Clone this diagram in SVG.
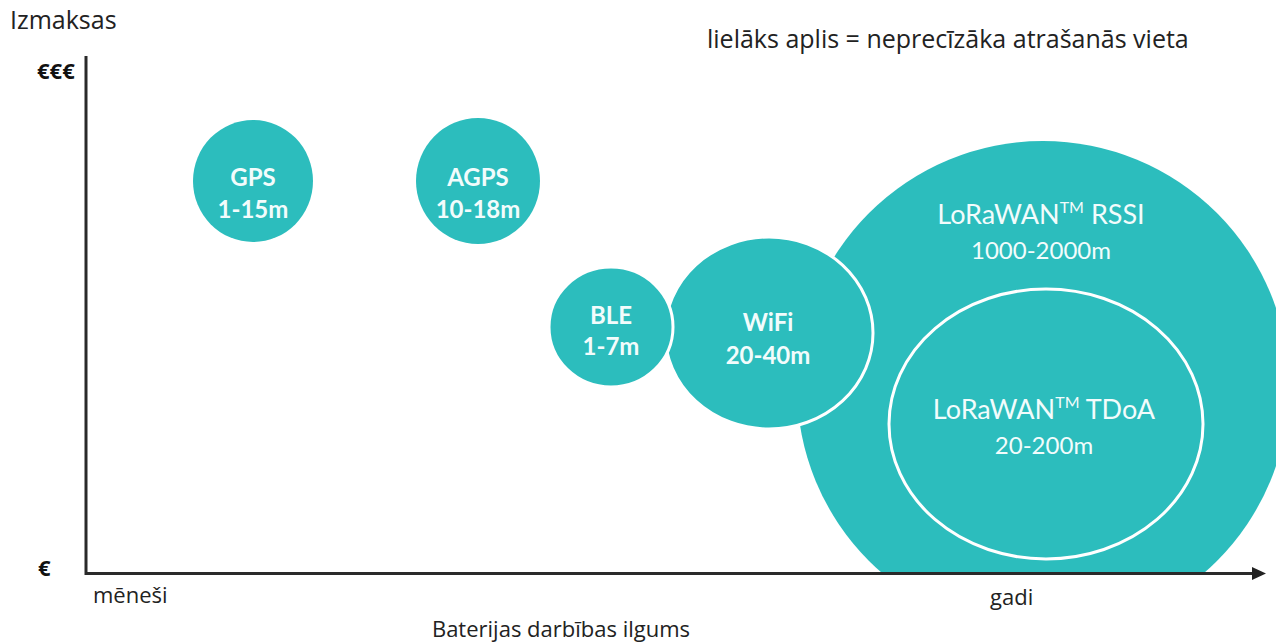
<svg xmlns="http://www.w3.org/2000/svg" width="1276" height="642" viewBox="0 0 1276 642">
<style>
.bub{fill:#2cbdbd}
.edge{stroke:#ffffff;stroke-width:3}
.ring{fill:none;stroke:#ffffff;stroke-width:3}
.lbl{font-family:Lato,"Open Sans",sans-serif;font-size:24px;fill:#f2fcfc;text-anchor:middle}
.b{font-weight:700}
.lo{font-size:27px}
.tm{font-size:16px}
.ax{font-family:"Open Sans","Noto Sans",sans-serif;font-size:22px;fill:#222222}
.top{font-size:25px}
.eur{font-family:"Open Sans","Noto Sans",sans-serif;font-size:22px;font-weight:700;fill:#111111}
.axis{fill:none;stroke:#2a2a2a;stroke-width:3}
</style>
<defs>
<clipPath id="plot"><rect x="0" y="0" width="1276" height="573"/></clipPath>
<marker id="arr" markerWidth="14" markerHeight="14" refX="2" refY="7" orient="auto" markerUnits="userSpaceOnUse"><path d="M0,0.5 L14,7 L0,13.5 z" fill="#222222"/></marker>
</defs>
<rect x="0" y="0" width="1276" height="642" fill="#ffffff"/>

<g id="lora-rssi" clip-path="url(#plot)">
<circle class="bub" cx="1043" cy="387" r="246"/>
<text class="lbl lo" x="1041" y="224">LoRaWAN<tspan class="tm" dy="-11">TM</tspan><tspan dy="11"> RSSI</tspan></text>
<text class="lbl" x="1041" y="259">1000-2000m</text>
</g>

<g id="lora-tdoa">
<ellipse class="ring" cx="1046" cy="424" rx="157" ry="135"/>
<text class="lbl lo" x="1044" y="419">LoRaWAN<tspan class="tm" dy="-11">TM</tspan><tspan dy="11"> TDoA</tspan></text>
<text class="lbl" x="1044" y="454">20-200m</text>
</g>

<g id="wifi">
<ellipse class="bub edge" cx="769" cy="333" rx="104" ry="96"/>
<text class="lbl b" x="768" y="331">WiFi</text>
<text class="lbl b" x="768" y="364">20-40m</text>
</g>

<g id="ble">
<ellipse class="bub edge" cx="611" cy="327" rx="62" ry="60"/>
<text class="lbl b" x="611" y="324">BLE</text>
<text class="lbl b" x="611" y="355">1-7m</text>
</g>

<g id="gps">
<ellipse class="bub" cx="253" cy="181" rx="60" ry="61"/>
<text class="lbl b" x="253" y="186">GPS</text>
<text class="lbl b" x="253" y="218">1-15m</text>
</g>

<g id="agps">
<ellipse class="bub" cx="478" cy="181" rx="62" ry="63"/>
<text class="lbl b" x="478" y="186">AGPS</text>
<text class="lbl b" x="478" y="218">10-18m</text>
</g>

<g id="connectors">
<path class="axis" d="M86,56 V573.5 H1254" marker-end="url(#arr)"/>
</g>

<g id="labels">
<text class="ax top" x="10" y="29">Izmaksas</text>
<text class="ax top" x="707" y="48">lielāks aplis = neprecīzāka atrašanās vieta</text>
<text class="eur" x="37" y="79">€€€</text>
<text class="eur" x="38" y="576">€</text>
<text class="ax" x="93" y="603">mēneši</text>
<text class="ax" x="990" y="605" font-size="24">gadi</text>
<text class="ax" x="561" y="637" text-anchor="middle">Baterijas darbības ilgums</text>
</g>
</svg>
